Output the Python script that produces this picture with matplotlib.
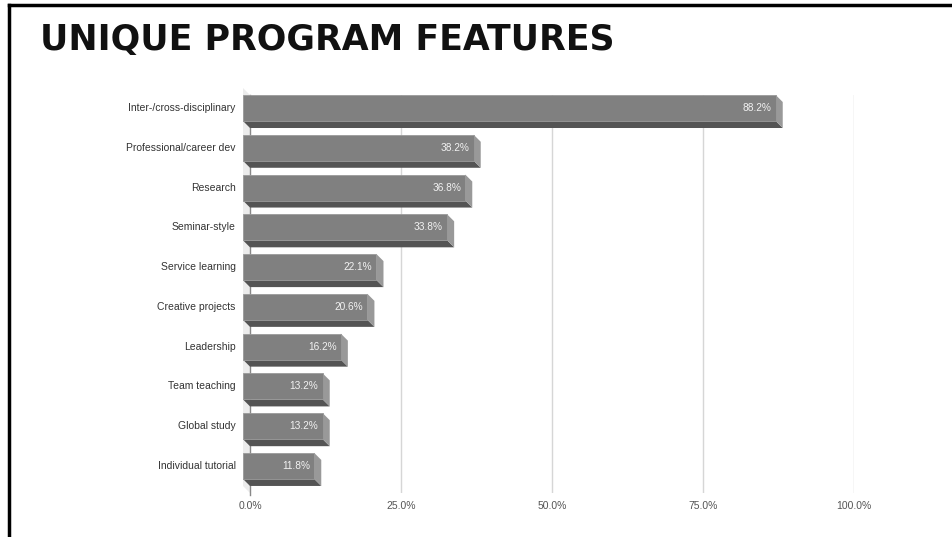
import matplotlib.pyplot as plt
from matplotlib.patches import Polygon
from matplotlib.lines import Line2D

# -----------------------------
# DATA
# -----------------------------
categories = ["Inter-/cross-disciplinary", "Professional/career dev", "Research",
              "Seminar-style", "Service learning", "Creative projects", "Leadership",
              "Team teaching", "Global study", "Individual tutorial"]
values = [88.2, 38.2, 36.8, 33.8, 22.1, 20.6, 16.2, 13.2, 13.2, 11.8]
xticks = [0, 25, 50, 75, 100]
xtick_labels = ["0.0%", "25.0%", "50.0%", "75.0%", "100.0%"]

W, H = 953, 537
fig = plt.figure(figsize=(W / 100, H / 100), dpi=100)

# axes placed in pixel terms: x 250..854, y 95..493
ax = fig.add_axes([250 / W, 1 - 493 / H, 604 / W, 398 / H])
ax.set_xlim(0, 100)
ax.set_ylim(9.68, -0.327)
ax.axis("off")

px_x = 604 / 100      # pixels per percent
px_y = 398 / 10.007   # pixels per row
dx = 7 / px_x
dy = 7 / px_y
h = 26 / px_y

# back wall
top, bottom = -0.327, 9.68
ax.add_patch(Polygon([(-dx, top - dy), (0, top), (0, bottom), (-dx, bottom - dy)],
                     closed=True, facecolor="#ececec", edgecolor="none", clip_on=False))

# gridlines
for t in xticks[1:]:
    ax.plot([t, t], [top, bottom], color="#d6d6d6", lw=1, zorder=1)
ax.plot([0, 0], [top, bottom + 0.05], color="#888888", lw=1, zorder=1, clip_on=False)

for i, v in enumerate(values):
    y0, y1 = i - h / 2, i + h / 2
    # bottom face
    ax.add_patch(Polygon([(-dx, y1), (v - dx, y1), (v, y1 + dy), (0, y1 + dy)],
                         closed=True, facecolor="#545454", edgecolor="none",
                         zorder=3, clip_on=False))
    # right side face
    ax.add_patch(Polygon([(v - dx, y0), (v, y0 + dy), (v, y1 + dy), (v - dx, y1)],
                         closed=True, facecolor="#999999", edgecolor="none",
                         zorder=3, clip_on=False))
    # front face
    ax.add_patch(Polygon([(-dx, y0), (v - dx, y0), (v - dx, y1), (-dx, y1)],
                         closed=True, facecolor="#808080", edgecolor="#9a9a9a",
                         lw=0.6, zorder=4, clip_on=False))
    ax.text(v - dx - 0.7, i, f"{v:.1f}%", color="#f2f2f2", fontsize=7.3,
            ha="right", va="center", family="Liberation Sans", zorder=5)
    ax.text(-dx - 1.2, i, categories[i], color="#333333", fontsize=7.5,
            ha="right", va="center", family="Liberation Sans", clip_on=False)

for t, lab in zip(xticks, xtick_labels):
    ax.text(t, bottom + 0.33, lab, color="#555555", fontsize=7.5,
            ha="center", va="center", family="Liberation Sans", clip_on=False)

# title
fig.text(40 / W, 1 - 40 / H, "UNIQUE PROGRAM FEATURES", fontsize=25,
         fontweight="bold", family="DejaVu Sans", color="#111111", ha="left", va="center")

# frame lines
fig.add_artist(Line2D([9 / W, 1], [1 - 5 / H, 1 - 5 / H], color="black", lw=2.5))
fig.add_artist(Line2D([9 / W, 9 / W], [0, 1 - 5 / H], color="black", lw=2.5))

fig.savefig("out.png", dpi=100)
